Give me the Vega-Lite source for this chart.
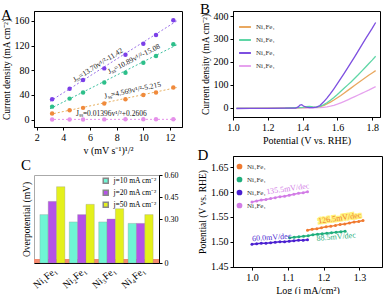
{
  "$schema": "https://vega.github.io/schema/vega-lite/v6.json",
  "padding": {"left": 0, "top": 1, "right": 0, "bottom": 0},
  "background": "white",
  "config": {
    "font": "Liberation Serif",
    "view": {"stroke": "#000", "strokeWidth": 1},
    "axis": {"labelFont": "Liberation Serif", "titleFont": "Liberation Serif", "labelFontSize": 10, "titleFontSize": 10, "titleFontWeight": "normal", "labelColor": "#000", "titleColor": "#000", "domainColor": "#000", "tickColor": "#000", "tickSize": 3, "grid": false, "labelPadding": 2, "titlePadding": 3, "labelOverlap": false, "labelFlush": false},
    "axisY": {"titleFontSize": 9.5},
    "legend": {"labelFont": "Liberation Serif", "labelFontSize": 7, "labelColor": "#333", "title": null},
    "title": {"font": "Liberation Serif", "fontSize": 15, "fontWeight": "normal", "anchor": "start", "frame": "bounds"}
  },
  "datasets": {
    "ptsA": [
      {"s": "Ni₁Fe₁", "v": 3.16, "j": 10}, {"s": "Ni₁Fe₁", "v": 4.47, "j": 15}, {"s": "Ni₁Fe₁", "v": 5.48, "j": 19}, {"s": "Ni₁Fe₁", "v": 7.07, "j": 26}, {"s": "Ni₁Fe₁", "v": 8.66, "j": 33}, {"s": "Ni₁Fe₁", "v": 10, "j": 40}, {"s": "Ni₁Fe₁", "v": 10.95, "j": 44}, {"s": "Ni₁Fe₁", "v": 12.25, "j": 52},
      {"s": "Ni₂Fe₁", "v": 3.16, "j": 21}, {"s": "Ni₂Fe₁", "v": 4.47, "j": 34}, {"s": "Ni₂Fe₁", "v": 5.48, "j": 44}, {"s": "Ni₂Fe₁", "v": 7.07, "j": 60}, {"s": "Ni₂Fe₁", "v": 8.66, "j": 76}, {"s": "Ni₂Fe₁", "v": 10, "j": 92}, {"s": "Ni₂Fe₁", "v": 10.95, "j": 103}, {"s": "Ni₂Fe₁", "v": 12.25, "j": 122},
      {"s": "Ni₃Fe₁", "v": 3.16, "j": 33}, {"s": "Ni₃Fe₁", "v": 4.47, "j": 50}, {"s": "Ni₃Fe₁", "v": 5.48, "j": 64}, {"s": "Ni₃Fe₁", "v": 7.07, "j": 83}, {"s": "Ni₃Fe₁", "v": 8.66, "j": 105}, {"s": "Ni₃Fe₁", "v": 10, "j": 123}, {"s": "Ni₃Fe₁", "v": 10.95, "j": 137}, {"s": "Ni₃Fe₁", "v": 12.25, "j": 161},
      {"s": "Ni₄Fe₁", "v": 3.16, "j": 0.3}, {"s": "Ni₄Fe₁", "v": 4.47, "j": 0.3}, {"s": "Ni₄Fe₁", "v": 5.48, "j": 0.3}, {"s": "Ni₄Fe₁", "v": 7.07, "j": 0.35}, {"s": "Ni₄Fe₁", "v": 8.66, "j": 0.4}, {"s": "Ni₄Fe₁", "v": 10, "j": 0.4}, {"s": "Ni₄Fe₁", "v": 10.95, "j": 0.4}, {"s": "Ni₄Fe₁", "v": 12.25, "j": 0.43}
    ],
    "fitA": [
      {"s": "Ni₁Fe₁", "v": 3.0, "j": 8.5}, {"s": "Ni₁Fe₁", "v": 12.5, "j": 51.9},
      {"s": "Ni₂Fe₁", "v": 3.0, "j": 17.6}, {"s": "Ni₂Fe₁", "v": 12.5, "j": 121},
      {"s": "Ni₃Fe₁", "v": 3.0, "j": 29.7}, {"s": "Ni₃Fe₁", "v": 12.5, "j": 159.8},
      {"s": "Ni₄Fe₁", "v": 3.0, "j": 0.3}, {"s": "Ni₄Fe₁", "v": 12.5, "j": 0.43}
    ],
    "annA": [
      {"t": "Jₛₛ=13.70v¹/²-11.42", "v": 6.6, "j": 88, "a": -32},
      {"t": "Jₛₛ=10.89v¹/²-15.08", "v": 9.3, "j": 98, "a": -27},
      {"t": "Jₛₛ=4.569v¹/²-5.215", "v": 9.2, "j": 47, "a": -12},
      {"t": "Jₛₛ=0.01396v¹/²+0.2606", "v": 7.6, "j": 9, "a": 0}
    ],
    "lsvB": [
      {"s": "Ni₄Fe₁", "E": 1.02, "j": -2}, {"s": "Ni₄Fe₁", "E": 1.3, "j": -1}, {"s": "Ni₄Fe₁", "E": 1.45, "j": 0}, {"s": "Ni₄Fe₁", "E": 1.5, "j": 1}, {"s": "Ni₄Fe₁", "E": 1.52, "j": 2}, {"s": "Ni₄Fe₁", "E": 1.54, "j": 4}, {"s": "Ni₄Fe₁", "E": 1.56, "j": 7}, {"s": "Ni₄Fe₁", "E": 1.58, "j": 11}, {"s": "Ni₄Fe₁", "E": 1.6, "j": 16}, {"s": "Ni₄Fe₁", "E": 1.62, "j": 22}, {"s": "Ni₄Fe₁", "E": 1.64, "j": 28}, {"s": "Ni₄Fe₁", "E": 1.66, "j": 35}, {"s": "Ni₄Fe₁", "E": 1.68, "j": 42}, {"s": "Ni₄Fe₁", "E": 1.7, "j": 49}, {"s": "Ni₄Fe₁", "E": 1.72, "j": 56}, {"s": "Ni₄Fe₁", "E": 1.74, "j": 63}, {"s": "Ni₄Fe₁", "E": 1.76, "j": 70}, {"s": "Ni₄Fe₁", "E": 1.78, "j": 77}, {"s": "Ni₄Fe₁", "E": 1.8, "j": 85}, {"s": "Ni₄Fe₁", "E": 1.82, "j": 92},
      {"s": "Ni₁Fe₁", "E": 1.02, "j": -2}, {"s": "Ni₁Fe₁", "E": 1.3, "j": -1}, {"s": "Ni₁Fe₁", "E": 1.45, "j": 2}, {"s": "Ni₁Fe₁", "E": 1.48, "j": 3}, {"s": "Ni₁Fe₁", "E": 1.5, "j": 5}, {"s": "Ni₁Fe₁", "E": 1.52, "j": 10}, {"s": "Ni₁Fe₁", "E": 1.54, "j": 17}, {"s": "Ni₁Fe₁", "E": 1.56, "j": 25}, {"s": "Ni₁Fe₁", "E": 1.58, "j": 34}, {"s": "Ni₁Fe₁", "E": 1.6, "j": 44}, {"s": "Ni₁Fe₁", "E": 1.62, "j": 54}, {"s": "Ni₁Fe₁", "E": 1.64, "j": 65}, {"s": "Ni₁Fe₁", "E": 1.66, "j": 76}, {"s": "Ni₁Fe₁", "E": 1.68, "j": 87}, {"s": "Ni₁Fe₁", "E": 1.7, "j": 98}, {"s": "Ni₁Fe₁", "E": 1.72, "j": 109}, {"s": "Ni₁Fe₁", "E": 1.74, "j": 120}, {"s": "Ni₁Fe₁", "E": 1.76, "j": 131}, {"s": "Ni₁Fe₁", "E": 1.78, "j": 142}, {"s": "Ni₁Fe₁", "E": 1.8, "j": 152}, {"s": "Ni₁Fe₁", "E": 1.82, "j": 162},
      {"s": "Ni₂Fe₁", "E": 1.02, "j": -2}, {"s": "Ni₂Fe₁", "E": 1.3, "j": -1}, {"s": "Ni₂Fe₁", "E": 1.4, "j": 2}, {"s": "Ni₂Fe₁", "E": 1.42, "j": 5}, {"s": "Ni₂Fe₁", "E": 1.44, "j": 6}, {"s": "Ni₂Fe₁", "E": 1.46, "j": 4}, {"s": "Ni₂Fe₁", "E": 1.48, "j": 3}, {"s": "Ni₂Fe₁", "E": 1.5, "j": 6}, {"s": "Ni₂Fe₁", "E": 1.52, "j": 13}, {"s": "Ni₂Fe₁", "E": 1.54, "j": 22}, {"s": "Ni₂Fe₁", "E": 1.56, "j": 33}, {"s": "Ni₂Fe₁", "E": 1.58, "j": 45}, {"s": "Ni₂Fe₁", "E": 1.6, "j": 58}, {"s": "Ni₂Fe₁", "E": 1.62, "j": 72}, {"s": "Ni₂Fe₁", "E": 1.64, "j": 86}, {"s": "Ni₂Fe₁", "E": 1.66, "j": 100}, {"s": "Ni₂Fe₁", "E": 1.68, "j": 114}, {"s": "Ni₂Fe₁", "E": 1.7, "j": 129}, {"s": "Ni₂Fe₁", "E": 1.72, "j": 144}, {"s": "Ni₂Fe₁", "E": 1.74, "j": 160}, {"s": "Ni₂Fe₁", "E": 1.76, "j": 176}, {"s": "Ni₂Fe₁", "E": 1.78, "j": 192}, {"s": "Ni₂Fe₁", "E": 1.8, "j": 208}, {"s": "Ni₂Fe₁", "E": 1.82, "j": 225},
      {"s": "Ni₃Fe₁", "E": 1.02, "j": -3}, {"s": "Ni₃Fe₁", "E": 1.1, "j": -2.5}, {"s": "Ni₃Fe₁", "E": 1.2, "j": -2}, {"s": "Ni₃Fe₁", "E": 1.3, "j": -1.5}, {"s": "Ni₃Fe₁", "E": 1.36, "j": -1}, {"s": "Ni₃Fe₁", "E": 1.375, "j": 4}, {"s": "Ni₃Fe₁", "E": 1.385, "j": 12}, {"s": "Ni₃Fe₁", "E": 1.395, "j": 14}, {"s": "Ni₃Fe₁", "E": 1.405, "j": 8}, {"s": "Ni₃Fe₁", "E": 1.42, "j": 3}, {"s": "Ni₃Fe₁", "E": 1.44, "j": 1}, {"s": "Ni₃Fe₁", "E": 1.46, "j": 1}, {"s": "Ni₃Fe₁", "E": 1.48, "j": 3}, {"s": "Ni₃Fe₁", "E": 1.5, "j": 10}, {"s": "Ni₃Fe₁", "E": 1.52, "j": 25}, {"s": "Ni₃Fe₁", "E": 1.54, "j": 42}, {"s": "Ni₃Fe₁", "E": 1.56, "j": 62}, {"s": "Ni₃Fe₁", "E": 1.58, "j": 83}, {"s": "Ni₃Fe₁", "E": 1.6, "j": 105}, {"s": "Ni₃Fe₁", "E": 1.62, "j": 128}, {"s": "Ni₃Fe₁", "E": 1.64, "j": 151}, {"s": "Ni₃Fe₁", "E": 1.66, "j": 175}, {"s": "Ni₃Fe₁", "E": 1.68, "j": 199}, {"s": "Ni₃Fe₁", "E": 1.7, "j": 223}, {"s": "Ni₃Fe₁", "E": 1.72, "j": 248}, {"s": "Ni₃Fe₁", "E": 1.74, "j": 273}, {"s": "Ni₃Fe₁", "E": 1.76, "j": 298}, {"s": "Ni₃Fe₁", "E": 1.78, "j": 322}, {"s": "Ni₃Fe₁", "E": 1.8, "j": 346}, {"s": "Ni₃Fe₁", "E": 1.82, "j": 372}
    ],
    "barC": [
      {"cat": "Ni₁Fe₁", "jd": "j=10 mA cm⁻²", "eta": 0.33}, {"cat": "Ni₁Fe₁", "jd": "j=20 mA cm⁻²", "eta": 0.42}, {"cat": "Ni₁Fe₁", "jd": "j=50 mA cm⁻²", "eta": 0.52},
      {"cat": "Ni₂Fe₁", "jd": "j=10 mA cm⁻²", "eta": 0.28}, {"cat": "Ni₂Fe₁", "jd": "j=20 mA cm⁻²", "eta": 0.33}, {"cat": "Ni₂Fe₁", "jd": "j=50 mA cm⁻²", "eta": 0.4},
      {"cat": "Ni₃Fe₁", "jd": "j=10 mA cm⁻²", "eta": 0.28}, {"cat": "Ni₃Fe₁", "jd": "j=20 mA cm⁻²", "eta": 0.3}, {"cat": "Ni₃Fe₁", "jd": "j=50 mA cm⁻²", "eta": 0.37},
      {"cat": "Ni₄Fe₁", "jd": "j=10 mA cm⁻²", "eta": 0.27}, {"cat": "Ni₄Fe₁", "jd": "j=20 mA cm⁻²", "eta": 0.27}, {"cat": "Ni₄Fe₁", "jd": "j=50 mA cm⁻²", "eta": 0.33}
    ],
    "tafD": [
      {"s": "Ni₁Fe₁", "x": 1.155, "y": 1.523}, {"s": "Ni₁Fe₁", "x": 1.168, "y": 1.525}, {"s": "Ni₁Fe₁", "x": 1.181, "y": 1.526}, {"s": "Ni₁Fe₁", "x": 1.194, "y": 1.528}, {"s": "Ni₁Fe₁", "x": 1.207, "y": 1.530}, {"s": "Ni₁Fe₁", "x": 1.220, "y": 1.531}, {"s": "Ni₁Fe₁", "x": 1.233, "y": 1.533}, {"s": "Ni₁Fe₁", "x": 1.246, "y": 1.535}, {"s": "Ni₁Fe₁", "x": 1.259, "y": 1.536}, {"s": "Ni₁Fe₁", "x": 1.272, "y": 1.538}, {"s": "Ni₁Fe₁", "x": 1.285, "y": 1.540}, {"s": "Ni₁Fe₁", "x": 1.298, "y": 1.541}, {"s": "Ni₁Fe₁", "x": 1.31, "y": 1.543},
      {"s": "Ni₂Fe₁", "x": 1.105, "y": 1.508}, {"s": "Ni₂Fe₁", "x": 1.118, "y": 1.509}, {"s": "Ni₂Fe₁", "x": 1.131, "y": 1.510}, {"s": "Ni₂Fe₁", "x": 1.144, "y": 1.511}, {"s": "Ni₂Fe₁", "x": 1.157, "y": 1.512}, {"s": "Ni₂Fe₁", "x": 1.170, "y": 1.514}, {"s": "Ni₂Fe₁", "x": 1.183, "y": 1.515}, {"s": "Ni₂Fe₁", "x": 1.196, "y": 1.516}, {"s": "Ni₂Fe₁", "x": 1.209, "y": 1.517}, {"s": "Ni₂Fe₁", "x": 1.222, "y": 1.518}, {"s": "Ni₂Fe₁", "x": 1.235, "y": 1.519}, {"s": "Ni₂Fe₁", "x": 1.248, "y": 1.520}, {"s": "Ni₂Fe₁", "x": 1.26, "y": 1.521},
      {"s": "Ni₃Fe₁", "x": 1.0, "y": 1.495}, {"s": "Ni₃Fe₁", "x": 1.013, "y": 1.496}, {"s": "Ni₃Fe₁", "x": 1.026, "y": 1.497}, {"s": "Ni₃Fe₁", "x": 1.039, "y": 1.497}, {"s": "Ni₃Fe₁", "x": 1.052, "y": 1.498}, {"s": "Ni₃Fe₁", "x": 1.065, "y": 1.499}, {"s": "Ni₃Fe₁", "x": 1.078, "y": 1.500}, {"s": "Ni₃Fe₁", "x": 1.091, "y": 1.500}, {"s": "Ni₃Fe₁", "x": 1.104, "y": 1.501}, {"s": "Ni₃Fe₁", "x": 1.117, "y": 1.502}, {"s": "Ni₃Fe₁", "x": 1.130, "y": 1.503}, {"s": "Ni₃Fe₁", "x": 1.143, "y": 1.503}, {"s": "Ni₃Fe₁", "x": 1.155, "y": 1.504},
      {"s": "Ni₄Fe₁", "x": 1.0, "y": 1.580}, {"s": "Ni₄Fe₁", "x": 1.013, "y": 1.582}, {"s": "Ni₄Fe₁", "x": 1.026, "y": 1.584}, {"s": "Ni₄Fe₁", "x": 1.039, "y": 1.585}, {"s": "Ni₄Fe₁", "x": 1.052, "y": 1.587}, {"s": "Ni₄Fe₁", "x": 1.065, "y": 1.589}, {"s": "Ni₄Fe₁", "x": 1.078, "y": 1.591}, {"s": "Ni₄Fe₁", "x": 1.091, "y": 1.592}, {"s": "Ni₄Fe₁", "x": 1.104, "y": 1.594}, {"s": "Ni₄Fe₁", "x": 1.117, "y": 1.596}, {"s": "Ni₄Fe₁", "x": 1.130, "y": 1.598}, {"s": "Ni₄Fe₁", "x": 1.143, "y": 1.599}, {"s": "Ni₄Fe₁", "x": 1.155, "y": 1.601}
    ],
    "annD": [
      {"t": "135.5mV/dec", "x": 1.10, "y": 1.606, "c": "Ni₄Fe₁", "a": -8},
      {"t": "126.5mV/dec", "x": 1.245, "y": 1.547, "c": "Ni₁Fe₁", "a": -8},
      {"t": "88.5mV/dec", "x": 1.235, "y": 1.509, "c": "Ni₂Fe₁", "a": -5},
      {"t": "60.0mV/dec", "x": 1.055, "y": 1.508, "c": "Ni₃Fe₁", "a": -4}
    ]
  },
  "resolve": {"scale": {"color": "independent", "stroke": "independent"}, "legend": {"color": "independent", "stroke": "independent"}},
  "spacing": 14,
  "hconcat": [
    {
      "spacing": 1,
      "resolve": {"scale": {"color": "independent", "stroke": "independent"}, "legend": {"color": "independent", "stroke": "independent"}},
      "vconcat": [
        {
          "title": {"text": "A", "offset": -12},
          "width": 148, "height": 116,
          "encoding": {
            "x": {"field": "v", "type": "quantitative", "scale": {"domain": [1.8, 12.9], "nice": false}, "axis": {"values": [2, 4, 6, 8, 10, 12], "labelOverlap": false, "title": "v (mV s⁻¹)¹/²"}},
            "y": {"field": "j", "type": "quantitative", "scale": {"domain": [-12, 176], "nice": false}, "axis": {"values": [0, 40, 80, 120, 160], "labelOverlap": false, "title": "Current density (mA cm⁻²)"}}
          },
          "layer": [
            {
              "data": {"name": "fitA"},
              "mark": {"type": "line", "strokeDash": [2, 2], "strokeWidth": 1},
              "encoding": {
                "stroke": {"field": "s", "type": "nominal", "scale": {"domain": ["Ni₁Fe₁", "Ni₂Fe₁", "Ni₃Fe₁", "Ni₄Fe₁"], "range": ["#e8b060", "#3cc0a0", "#9a70e8", "#e590ea"]}, "legend": null},
                "detail": {"field": "s"}
              }
            },
            {
              "data": {"name": "ptsA"},
              "mark": {"type": "point", "filled": true, "shape": "circle", "size": 20, "opacity": 1},
              "encoding": {
                "color": {"field": "s", "type": "nominal", "scale": {"domain": ["Ni₁Fe₁", "Ni₂Fe₁", "Ni₃Fe₁", "Ni₄Fe₁"], "range": ["#f08a3c", "#2dbf8a", "#7b3fe8", "#e590ea"]},
                  "legend": {"orient": "none", "legendX": 7, "legendY": 14, "symbolSize": 18, "symbolType": "circle", "rowPadding": 2, "labelFontSize": 7, "padding": 0}}
              }
            },
            {
              "data": {"name": "annA"},
              "mark": {"type": "text", "fontSize": 7.5, "color": "#222"},
              "encoding": {
                "text": {"field": "t"},
                "angle": {"field": "a", "type": "quantitative", "scale": null}
              }
            }
          ]
        },
        {
          "title": {"text": "C", "offset": -2},
          "width": 125, "height": 88,
          "view": {"stroke": "#aaa"},
          "data": {"name": "barC"},
          "layer": [
            {
              "mark": {"type": "rect", "color": "#f58a70"},
              "encoding": {
                "y": {"datum": 0, "type": "quantitative", "scale": {"domain": [0, 0.6], "nice": false}, "axis": {"orient": "left", "labels": false, "ticks": false, "domain": false, "title": "Overpotential (mV)"}},
                "y2": {"datum": 0.025}
              }
            },
            {
              "mark": {"type": "bar", "stroke": "#888", "strokeWidth": 0.3},
              "encoding": {
                "x": {"field": "cat", "type": "nominal", "axis": {"title": null, "labelAngle": -40, "labelAlign": "right", "labelFontSize": 10, "ticks": false}, "scale": {"paddingInner": 0.15}},
                "xOffset": {"field": "jd", "type": "nominal"},
                "y": {"field": "eta", "type": "quantitative", "axis": {"orient": "right", "title": null, "values": [0, 0.3, 0.45, 0.6], "labelExpr": "datum.value == 0 ? '0' : format(datum.value, '.2f')", "labelFontSize": 8}},
                "color": {"field": "jd", "type": "nominal", "scale": {"domain": ["j=10 mA cm⁻²", "j=20 mA cm⁻²", "j=50 mA cm⁻²"], "range": ["#6ff5d4", "#b452e8", "#e4f01c"]},
                  "legend": {"orient": "top-right", "offset": 2, "symbolType": "square", "symbolSize": 25, "labelFontSize": 7.5, "labelColor": "#000", "rowPadding": 0, "padding": 0}}
              }
            }
          ],
          "resolve": {"axis": {"y": "independent"}}
        }
      ]
    },
    {
      "spacing": 1,
      "resolve": {"scale": {"color": "independent", "stroke": "independent"}, "legend": {"color": "independent", "stroke": "independent"}},
      "vconcat": [
        {
          "title": {"text": "B", "offset": -6},
          "width": 147, "height": 106,
          "data": {"name": "lsvB"},
          "mark": {"type": "line", "strokeWidth": 1.3},
          "encoding": {
            "x": {"field": "E", "type": "quantitative", "scale": {"domain": [1.0, 1.845], "nice": false}, "axis": {"values": [1.0, 1.2, 1.4, 1.6, 1.8], "format": ".1f", "title": "Potential (V vs. RHE)"}},
            "y": {"field": "j", "type": "quantitative", "scale": {"domain": [-40, 422], "nice": false}, "axis": {"values": [0, 100, 200, 300, 400], "title": "Current density (mA cm⁻²)"}},
            "color": {"field": "s", "type": "nominal", "scale": {"domain": ["Ni₁Fe₁", "Ni₂Fe₁", "Ni₃Fe₁", "Ni₄Fe₁"], "range": ["#e9a860", "#5fd6a6", "#7d4fe0", "#e6a2ee"]},
              "legend": {"orient": "none", "legendX": 5, "legendY": 9, "symbolType": "stroke", "symbolStrokeWidth": 2, "symbolSize": 140, "rowPadding": 2, "labelFontSize": 7, "padding": 0}},
            "order": {"field": "E", "type": "quantitative"}
          }
        },
        {
          "title": {"text": "D", "offset": -7},
          "width": 149, "height": 111,
          "encoding": {
            "x": {"field": "x", "type": "quantitative", "scale": {"domain": [0.947, 1.363], "nice": false}, "axis": {"values": [1.0, 1.1, 1.2, 1.3], "format": ".1f", "labelOverlap": false, "title": "Log (j mA/cm²)"}},
            "y": {"field": "y", "type": "quantitative", "scale": {"domain": [1.449, 1.673], "nice": false}, "axis": {"values": [1.45, 1.5, 1.55, 1.6, 1.65], "format": ".2f", "labelOverlap": false, "title": "Potential (V vs. RHE)"}}
          },
          "layer": [
            {
              "data": {"name": "tafD"},
              "mark": {"type": "line", "strokeWidth": 1.5, "point": {"filled": true, "size": 9}},
              "encoding": {
                "color": {"field": "s", "type": "nominal", "scale": {"domain": ["Ni₁Fe₁", "Ni₂Fe₁", "Ni₃Fe₁", "Ni₄Fe₁"], "range": ["#f07a30", "#1fae7c", "#4a1fd0", "#d27ce6"]},
                  "legend": {"orient": "none", "legendX": 3, "legendY": 7, "symbolType": "circle", "symbolSize": 18, "rowPadding": 2, "labelFontSize": 7, "padding": 0}}
              }
            },
            {
              "data": {"name": "annD"},
              "transform": [{"filter": "datum.t == '126.5mV/dec'"}],
              "mark": {"type": "text", "fontSize": 8, "stroke": "#fff27a", "strokeWidth": 2.5, "fill": "#fff27a"},
              "encoding": {
                "text": {"field": "t"},
                "angle": {"field": "a", "type": "quantitative", "scale": null}
              }
            },
            {
              "data": {"name": "annD"},
              "mark": {"type": "text", "fontSize": 8},
              "encoding": {
                "text": {"field": "t"},
                "angle": {"field": "a", "type": "quantitative", "scale": null},
                "color": {"field": "c", "type": "nominal", "legend": null}
              }
            }
          ]
        }
      ]
    }
  ]
}
